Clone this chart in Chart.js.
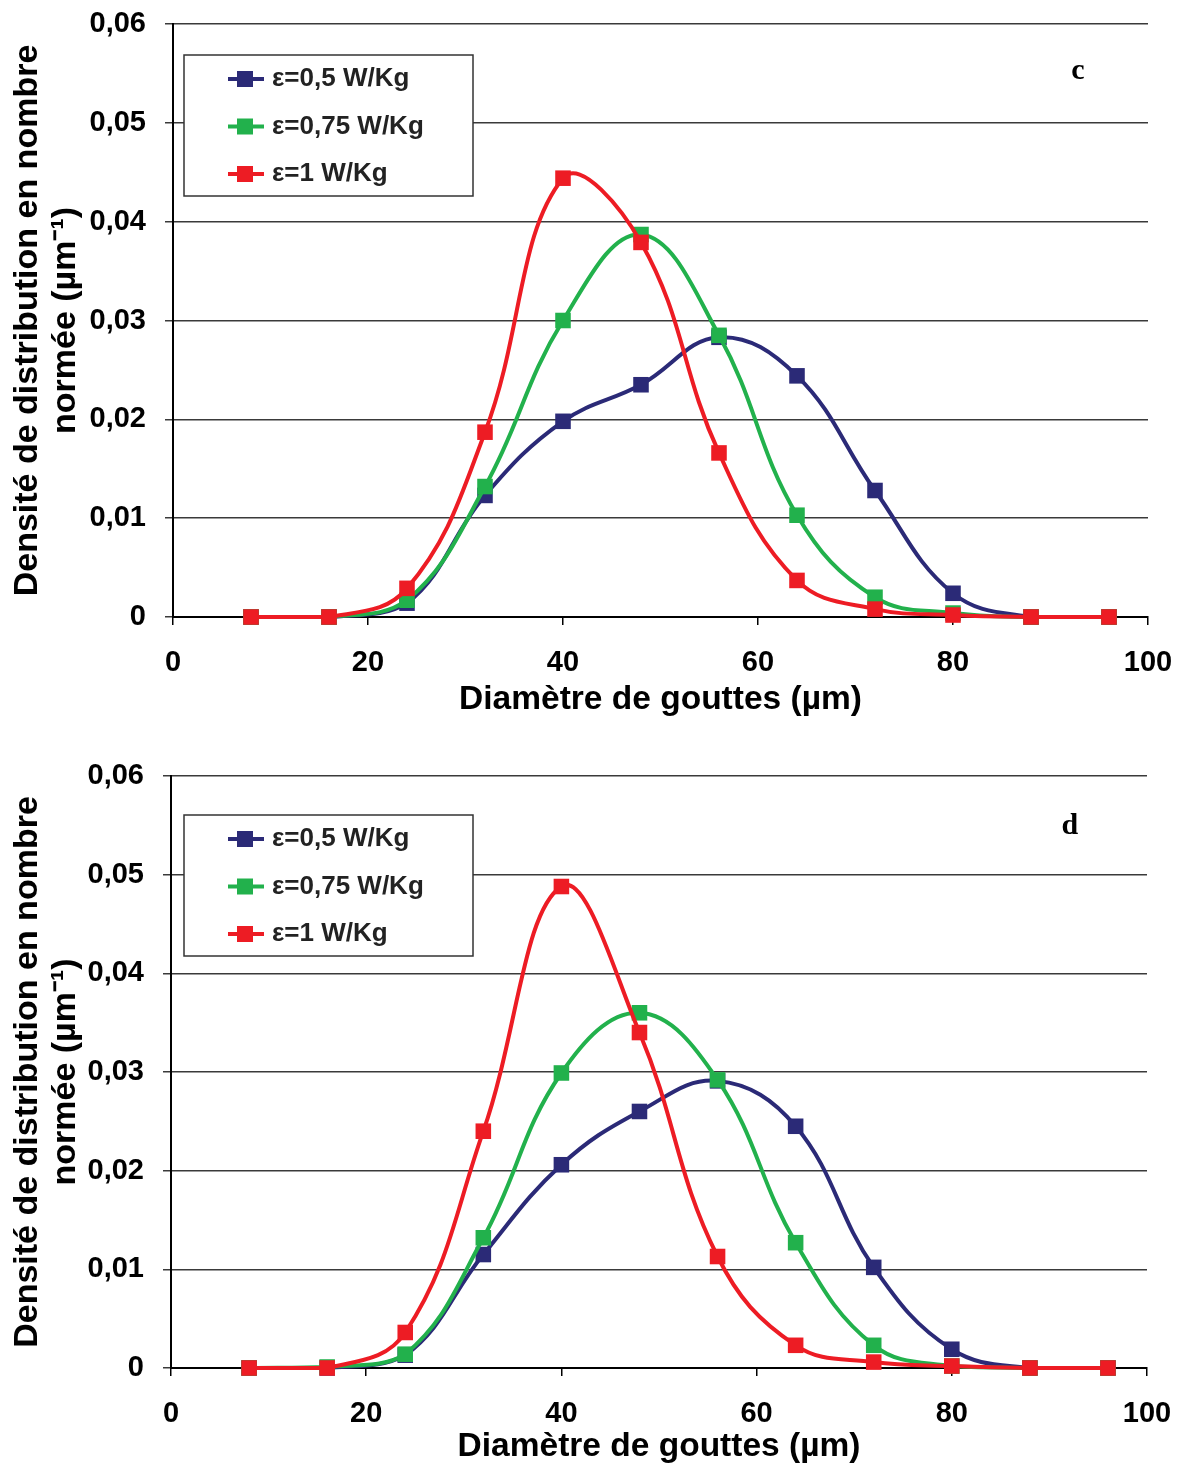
<!DOCTYPE html>
<html>
<head>
<meta charset="utf-8">
<script src="https://cdn.jsdelivr.net/npm/chart.js@4.4.1/dist/chart.umd.min.js"></script>
<style>
body { margin: 0; background: #fff; }
canvas { display: block; }
</style>
</head>
<body>
<canvas id="graphC" width="1177" height="733"></canvas>
<canvas id="graphD" width="1177" height="732"></canvas>
<script>
// diametres de gouttes (µm)
var diametres = [8, 16, 24, 32, 40, 48, 56, 64, 72, 80, 88, 96];
var legendes = ["ε=0,5 W/Kg", "ε=0,75 W/Kg", "ε=1 W/Kg"];
var couleurs = ['#2b2a77', '#22b14c', '#ed1c24'];

// graphe c
var c05 = [0, 0, 0.0014, 0.0123, 0.0198, 0.0235, 0.0283, 0.0244, 0.0128, 0.0024, 0, 0];
var c075 = [0, 0, 0.0017, 0.0132, 0.0300, 0.0387, 0.0285, 0.0103, 0.0020, 0.0004, 0, 0];
var c1 = [0, 0, 0.0029, 0.0187, 0.0444, 0.0379, 0.0166, 0.0037, 0.0008, 0.0002, 0, 0];

// graphe d
var d05 = [0, 0, 0.0013, 0.0115, 0.0206, 0.0260, 0.0291, 0.0245, 0.0102, 0.0019, 0, 0];
var d075 = [0, 0.0001, 0.0014, 0.0132, 0.0299, 0.0360, 0.0292, 0.0127, 0.0023, 0.0002, 0, 0];
var d1 = [0, 0, 0.0036, 0.0240, 0.0488, 0.0340, 0.0113, 0.0023, 0.0006, 0.0002, 0, 0];

Chart.defaults.font.family = "'Liberation Sans', Arial, sans-serif";
Chart.defaults.font.weight = 'bold';
Chart.defaults.color = '#000';

function points(vals) {
  return diametres.map(function (d, i) { return { x: d, y: vals[i] }; });
}

function serie(i, vals) {
  return {
    label: legendes[i],
    data: points(vals),
    borderColor: couleurs[i],
    backgroundColor: couleurs[i],
    borderWidth: 4,
    tension: 0.4,
    pointStyle: 'rect',
    pointRadius: 11,
    pointBorderWidth: 0,
    clip: false,
    order: 3 - i
  };
}

function legendeBoite(dx, dy, lettre, lx, ly) {
  return {
    id: 'legendeBoite',
    afterDraw: function (chart) {
      var ctx = chart.ctx, a = chart.chartArea;
      var x0 = a.left + dx, y0 = a.top + dy;
      ctx.save();
      ctx.fillStyle = '#fff';
      ctx.fillRect(x0, y0, 289, 141);
      ctx.strokeStyle = '#333';
      ctx.lineWidth = 1.5;
      ctx.strokeRect(x0, y0, 289, 141);
      ctx.font = "bold 26px 'Liberation Sans', Arial, sans-serif";
      ctx.textBaseline = 'middle';
      for (var i = 0; i < legendes.length; i++) {
        var y = y0 + 24 + i * 47.5;
        ctx.strokeStyle = couleurs[i];
        ctx.lineWidth = 4;
        ctx.beginPath();
        ctx.moveTo(x0 + 44, y);
        ctx.lineTo(x0 + 80, y);
        ctx.stroke();
        ctx.fillStyle = couleurs[i];
        ctx.fillRect(x0 + 61 - 8, y - 8, 16, 16);
        ctx.fillStyle = '#222';
        ctx.fillText(legendes[i], x0 + 88, y);
      }
      ctx.font = "bold 30px 'Liberation Serif', 'Times New Roman', serif";
      ctx.textAlign = 'center';
      ctx.fillStyle = '#000';
      ctx.fillText(lettre, chart.scales.x.getPixelForValue(lx), chart.scales.y.getPixelForValue(ly));
      ctx.restore();
    }
  };
}

function graphe(id, series, cfg) {
  return new Chart(document.getElementById(id), {
    type: 'line',
    data: {
      datasets: series.map(function (s, i) { return serie(i, s); })
    },
    options: {
      responsive: false,
      animation: false,
      layout: { padding: { top: cfg.top, right: cfg.right, left: 0, bottom: 0 } },
      plugins: { legend: { display: false }, tooltip: { enabled: false } },
      scales: {
        x: {
          type: 'linear',
          min: 0,
          max: 100,
          ticks: { stepSize: 20, font: { size: 29 }, padding: 21, color: '#000' },
          grid: { drawOnChartArea: false, drawTicks: true, tickLength: 8, color: '#000', lineWidth: 1.5 },
          border: { color: '#000', width: 2 },
          title: {
            display: true,
            text: 'Diamètre de gouttes (µm)',
            font: { size: 33.5, lineHeight: 1.2 },
            color: '#000',
            padding: { top: 0, bottom: cfg.titreBas }
          },
          afterFit: function (s) {
            s.height = cfg.hauteurX;
            s.paddingLeft = 0;
            s.paddingRight = 0;
          }
        },
        y: {
          min: 0,
          max: 0.06,
          ticks: {
            stepSize: 0.01,
            font: { size: 29 },
            padding: 19,
            color: '#000',
            callback: function (v) { return v === 0 ? '0' : v.toFixed(2).replace('.', ','); }
          },
          grid: { color: '#3a3a3a', lineWidth: 1.5, tickLength: 8 },
          border: { color: '#000', width: 2 },
          title: {
            display: true,
            text: ['Densité de distribution en nombre', 'normée (µm⁻¹)'],
            font: { size: 34, lineHeight: 1.12 },
            color: '#000',
            padding: { top: 9, bottom: 0 }
          },
          afterFit: function (s) {
            s.width = cfg.largeurY;
            s.paddingTop = 0;
            s.paddingBottom = 0;
          }
        }
      }
    },
    plugins: [legendeBoite(cfg.legX, cfg.legY, cfg.lettre, cfg.lettreX, cfg.lettreY)]
  });
}

graphe('graphC', [c05, c075, c1], {
  top: 24, right: 29, largeurY: 173, hauteurX: 116, titreBas: 13,
  legX: 11, legY: 31, lettre: 'c', lettreX: 92.8, lettreY: 0.0552
});

graphe('graphD', [d05, d075, d1], {
  top: 43, right: 30, largeurY: 171, hauteurX: 97, titreBas: -2,
  legX: 13, legY: 39, lettre: 'd', lettreX: 92.1, lettreY: 0.0549
});
</script>
</body>
</html>
